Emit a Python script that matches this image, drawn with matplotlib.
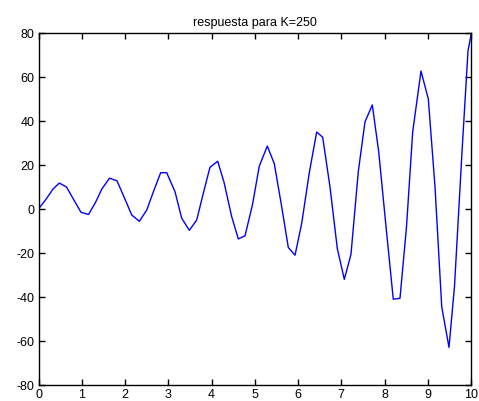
import matplotlib
matplotlib.use('Agg')
import matplotlib.pyplot as plt

# response samples
t = [0.0, 0.173, 0.333, 0.481, 0.647, 0.821, 0.983, 1.156, 1.318, 1.468,
     1.642, 1.815, 1.988, 2.155, 2.331, 2.502, 2.671, 2.825, 2.964, 3.156,
     3.311, 3.487, 3.658, 3.810, 3.965, 4.143, 4.289, 4.467, 4.620, 4.775,
     4.948, 5.105, 5.290, 5.452, 5.623, 5.776, 5.931, 6.086, 6.261, 6.432,
     6.571, 6.740, 6.909, 7.071, 7.225, 7.394, 7.549, 7.718, 7.866, 8.035,
     8.203, 8.358, 8.509, 8.652, 8.844, 9.013, 9.168, 9.323, 9.491, 9.619,
     9.792, 9.931, 10.0]
y = [0, 4.4, 9, 11.8, 10, 4, -1.5, -2.5, 3, 9.2,
     14, 12.8, 5, -2.7, -5.6, -0.5, 8.6, 16.5, 16.5, 7.9,
     -4.2, -9.7, -5, 7.1, 19, 21.7, 12.2, -3.5, -13.6, -12.2,
     2, 19.5, 28.6, 20.6, 1, -17.5, -21, -6.5, 16.5, 35,
     32.6, 10, -18, -32, -20.6, 17, 39.6, 47.3, 26, -8,
     -41, -40.6, -8, 35.1, 62.7, 50, 10, -44.4, -62.9, -35,
     26, 72, 79]

xticks = list(range(0, 11))
yticks = [-80, -60, -40, -20, 0, 20, 40, 60, 80]

plt.rcParams['font.family'] = ['Liberation Sans', 'DejaVu Sans']
plt.rcParams['axes.unicode_minus'] = False

fig = plt.figure(figsize=(4.79, 4.01), dpi=100)
ax = fig.add_axes([38.5/479, 1-385/401, (471-38.5)/479, (385-33)/401])
ax.plot(t, y, color='#0000ff', linewidth=1.0)

ax.set_xlim(0, 10)
ax.set_ylim(-80, 80)
ax.set_xticks(xticks)
ax.set_yticks(yticks)
ax.tick_params(direction='in', top=True, right=True, length=4, width=1,
               labelsize=9, pad=3)
for s in ax.spines.values():
    s.set_linewidth(1.0)
ax.set_title('respuesta para K=250', fontsize=9, pad=5)

fig.savefig('out.png', dpi=100)
